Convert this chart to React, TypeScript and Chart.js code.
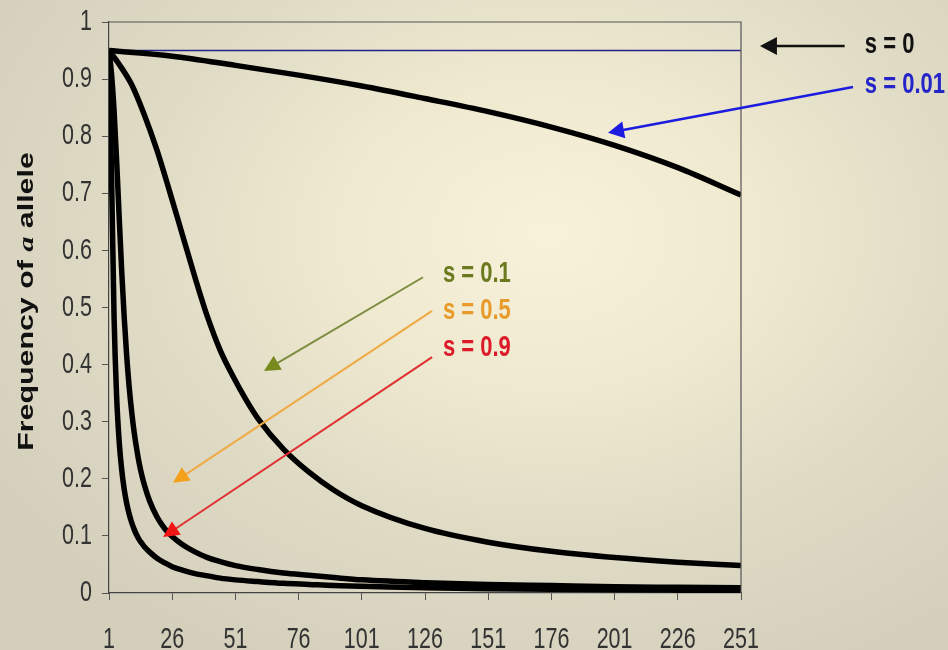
import React, { useEffect, useRef } from "react";
import { Chart, registerables } from "chart.js";

Chart.register(...registerables);

// ---- data ----
const xTicks = [1, 26, 51, 76, 101, 126, 151, 176, 201, 226, 251];
const yTicks = [0, 0.1, 0.2, 0.3, 0.4, 0.5, 0.6, 0.7, 0.8, 0.9, 1];

const seriesLabels = ["s = 0", "s = 0.01", "s = 0.1", "s = 0.5", "s = 0.9"];

const gensS0 = [1, 251];
const valsS0 = [0.95, 0.95];

const gensS001 = [1, 26, 51, 76, 101, 126, 151, 176, 201, 226, 251];
const valsS001 = [0.95, 0.94, 0.924, 0.907, 0.888, 0.866, 0.843, 0.816, 0.784, 0.745, 0.697];

const gensS01 = [1, 5, 10, 15, 20, 25, 30, 35, 40, 45, 50, 55, 60, 70, 80, 90, 101, 126, 151, 176, 201, 226, 251];
const valsS01 = [0.95, 0.926, 0.89, 0.837, 0.775, 0.703, 0.628, 0.553, 0.483, 0.425, 0.38, 0.34, 0.305, 0.252, 0.212, 0.18, 0.153, 0.113, 0.089, 0.073, 0.062, 0.054, 0.048];

const gensSteep = [1, 2, 3, 4, 5, 6, 7, 8, 9, 10, 11, 12, 13, 14, 15, 17, 20, 23, 26, 30, 35, 40, 45, 51, 60, 70, 80, 90, 101, 126, 151, 176, 201, 226, 251];
const valsS05 = [0.95, 0.909, 0.845, 0.759, 0.661, 0.566, 0.484, 0.415, 0.36, 0.316, 0.28, 0.251, 0.226, 0.206, 0.189, 0.162, 0.133, 0.113, 0.099, 0.085, 0.072, 0.062, 0.055, 0.048, 0.041, 0.035, 0.031, 0.027, 0.023, 0.018, 0.015, 0.013, 0.011, 0.01, 0.009];
const valsS09 = [0.95, 0.734, 0.484, 0.346, 0.267, 0.217, 0.182, 0.157, 0.138, 0.123, 0.111, 0.101, 0.093, 0.087, 0.081, 0.072, 0.061, 0.053, 0.046, 0.04, 0.034, 0.03, 0.026, 0.023, 0.02, 0.017, 0.015, 0.013, 0.012, 0.009, 0.0076, 0.0065, 0.0056, 0.005, 0.0045];

// annotation layout (data units: x = generation, y = frequency)
const annotations = [
  { text: "s = 0", color: "#111111", arrow: "#111111", head: "#111111", lx: 300, ly: 0.96, tx: 292, ty: 0.958, hx: 258.5, hy: 0.958, w: 2.5, hl: 17, hw: 9 },
  { text: "s = 0.01", color: "#2424c8", arrow: "#1c1ce0", head: "#1c1ce0", lx: 300, ly: 0.89, tx: 295.3, ty: 0.886, hx: 198.4, hy: 0.806, w: 2.5, hl: 16, hw: 8.5 },
  { text: "s = 0.1", color: "#6b7a1e", arrow: "#7d8c40", head: "#788a1e", lx: 133.1, ly: 0.56, tx: 125.2, ty: 0.553, hx: 62.3, hy: 0.389, w: 2, hl: 16, hw: 8 },
  { text: "s = 0.5", color: "#e89a2a", arrow: "#f0aa45", head: "#f5a01a", lx: 133.1, ly: 0.495, tx: 128.8, ty: 0.494, hx: 26.3, hy: 0.193, w: 2, hl: 16, hw: 8 },
  { text: "s = 0.9", color: "#dc1a28", arrow: "#e03030", head: "#f01414", lx: 133.1, ly: 0.43, tx: 128.8, ty: 0.413, hx: 22.4, hy: 0.098, w: 2, hl: 16, hw: 8 },
];

const STRETCH = 1.38;
const SANS = "'Liberation Sans', Arial, sans-serif";

function drawArrow(ctx: CanvasRenderingContext2D, x1: number, y1: number, x2: number, y2: number, lineColor: string, headColor: string, width: number, headLen: number, headHalf: number) {
  const ang = Math.atan2(y2 - y1, x2 - x1);
  const c = Math.cos(ang), s = Math.sin(ang);
  const bx = x2 - headLen * c, by = y2 - headLen * s;
  ctx.save();
  ctx.strokeStyle = lineColor;
  ctx.lineWidth = width;
  ctx.beginPath();
  ctx.moveTo(x1, y1);
  ctx.lineTo(bx + 2 * c, by + 2 * s);
  ctx.stroke();
  ctx.fillStyle = headColor;
  ctx.beginPath();
  ctx.moveTo(x2, y2);
  ctx.lineTo(bx + headHalf * s, by - headHalf * c);
  ctx.lineTo(bx - headHalf * s, by + headHalf * c);
  ctx.closePath();
  ctx.fill();
  ctx.restore();
}

function stretchedText(ctx: CanvasRenderingContext2D, text: string, x: number, y: number, font: string, color: string, align: CanvasTextAlign, baseline: CanvasTextBaseline) {
  ctx.save();
  ctx.translate(x, y);
  ctx.scale(1, STRETCH);
  ctx.font = font;
  ctx.fillStyle = color;
  ctx.textAlign = align;
  ctx.textBaseline = baseline;
  ctx.fillText(text, 0, 0);
  ctx.restore();
}

const decorPlugin = {
  id: "decor",
  afterDraw(chart: any) {
    const { ctx, chartArea, scales } = chart;
    const xs = scales.x, ys = scales.y;
    // frame top/right
    ctx.save();
    ctx.strokeStyle = "#555555";
    ctx.lineWidth = 1.2;
    ctx.beginPath();
    ctx.moveTo(chartArea.left, chartArea.top);
    ctx.lineTo(chartArea.right, chartArea.top);
    ctx.lineTo(chartArea.right, chartArea.bottom);
    ctx.stroke();
    ctx.restore();

    // tick labels (stretched like the original slide image)
    const tickFont = "21.5px " + SANS;
    for (const t of ys.ticks) {
      stretchedText(ctx, String(t.value), chartArea.left - 17, ys.getPixelForValue(t.value), tickFont, "#333333", "right", "middle");
    }
    for (const t of xs.ticks) {
      stretchedText(ctx, String(t.value), xs.getPixelForValue(t.value), chartArea.bottom + 55, tickFont, "#333333", "center", "alphabetic");
    }

    // annotations
    for (const a of annotations) {
      drawArrow(
        ctx,
        xs.getPixelForValue(a.tx), ys.getPixelForValue(a.ty),
        xs.getPixelForValue(a.hx), ys.getPixelForValue(a.hy),
        a.arrow, a.head, a.w, a.hl, a.hw
      );
      stretchedText(ctx, a.text, xs.getPixelForValue(a.lx), ys.getPixelForValue(a.ly), "bold 22px " + SANS, a.color, "left", "middle");
    }

    // y axis title with italic "a"
    const parts = [
      { t: "Frequency of ", f: "bold 22px " + SANS },
      { t: "a", f: "italic bold 22px 'Liberation Serif', serif" },
      { t: " allele", f: "bold 22px " + SANS },
    ];
    ctx.save();
    let total = 0;
    for (const p of parts) { ctx.font = p.f; total += ctx.measureText(p.t).width; }
    const cy = (chartArea.top + chartArea.bottom) / 2 - 6;
    ctx.translate(33, cy);
    ctx.rotate(-Math.PI / 2);
    ctx.scale(STRETCH, 1);
    ctx.fillStyle = "#111111";
    ctx.textBaseline = "alphabetic";
    ctx.textAlign = "left";
    let x = -total / 2;
    for (const p of parts) {
      ctx.font = p.f;
      ctx.fillText(p.t, x, 0);
      x += ctx.measureText(p.t).width;
    }
    ctx.restore();
  },
};

function toPoints(g: number[], v: number[]) {
  return g.map((x, i) => ({ x, y: v[i] }));
}

export default function App() {
  const ref = useRef<HTMLCanvasElement | null>(null);
  useEffect(() => {
    document.body.style.margin = "0";
    if (!ref.current) return;
    const lineBase = {
      pointRadius: 0,
      borderWidth: 5.5,
      borderColor: "#000000",
      cubicInterpolationMode: "monotone" as const,
      fill: false,
      borderJoinStyle: "round" as const,
    };
    const chart = new Chart(ref.current, {
      type: "line",
      data: {
        datasets: [
          { ...lineBase, label: seriesLabels[4], data: toPoints(gensSteep, valsS09) },
          { ...lineBase, label: seriesLabels[3], data: toPoints(gensSteep, valsS05) },
          { ...lineBase, label: seriesLabels[2], data: toPoints(gensS01, valsS01) },
          { ...lineBase, label: seriesLabels[1], data: toPoints(gensS001, valsS001) },
          { ...lineBase, label: seriesLabels[0], data: toPoints(gensS0, valsS0), borderWidth: 1.6, borderColor: "#22228a" },
        ],
      },
      options: {
        animation: false,
        responsive: true,
        maintainAspectRatio: false,
        layout: { padding: { top: 22, right: 207, left: 0, bottom: 0 } },
        plugins: { legend: { display: false }, tooltip: { enabled: false } },
        scales: {
          x: {
            type: "linear",
            min: 1,
            max: 251,
            afterBuildTicks: (s: any) => { s.ticks = xTicks.map((v) => ({ value: v })); },
            afterFit: (s: any) => { s.height = 57; },
            grid: { drawOnChartArea: false, drawTicks: true, tickLength: 7, color: "#555555" },
            border: { display: true, color: "#444444", width: 1.2 },
            ticks: { display: false, autoSkip: false },
          },
          y: {
            type: "linear",
            min: 0,
            max: 1,
            afterBuildTicks: (s: any) => { s.ticks = yTicks.map((v) => ({ value: v })); },
            afterFit: (s: any) => { s.width = 109; },
            grid: { drawOnChartArea: false, drawTicks: true, tickLength: 7, color: "#555555" },
            border: { display: true, color: "#444444", width: 1.2 },
            ticks: { display: false, autoSkip: false },
          },
        },
      },
      plugins: [decorPlugin],
    } as any);
    return () => chart.destroy();
  }, []);

  return (
    <div
      style={{
        width: 948,
        height: 650,
        position: "relative",
        background:
          "radial-gradient(ellipse 70% 75% at 58% 36%, #f7f2da 0%, #eee9cf 32%, #e0dbc5 62%, #d3cfbb 100%)",
      }}
    >
      <canvas ref={ref} />
    </div>
  );
}
